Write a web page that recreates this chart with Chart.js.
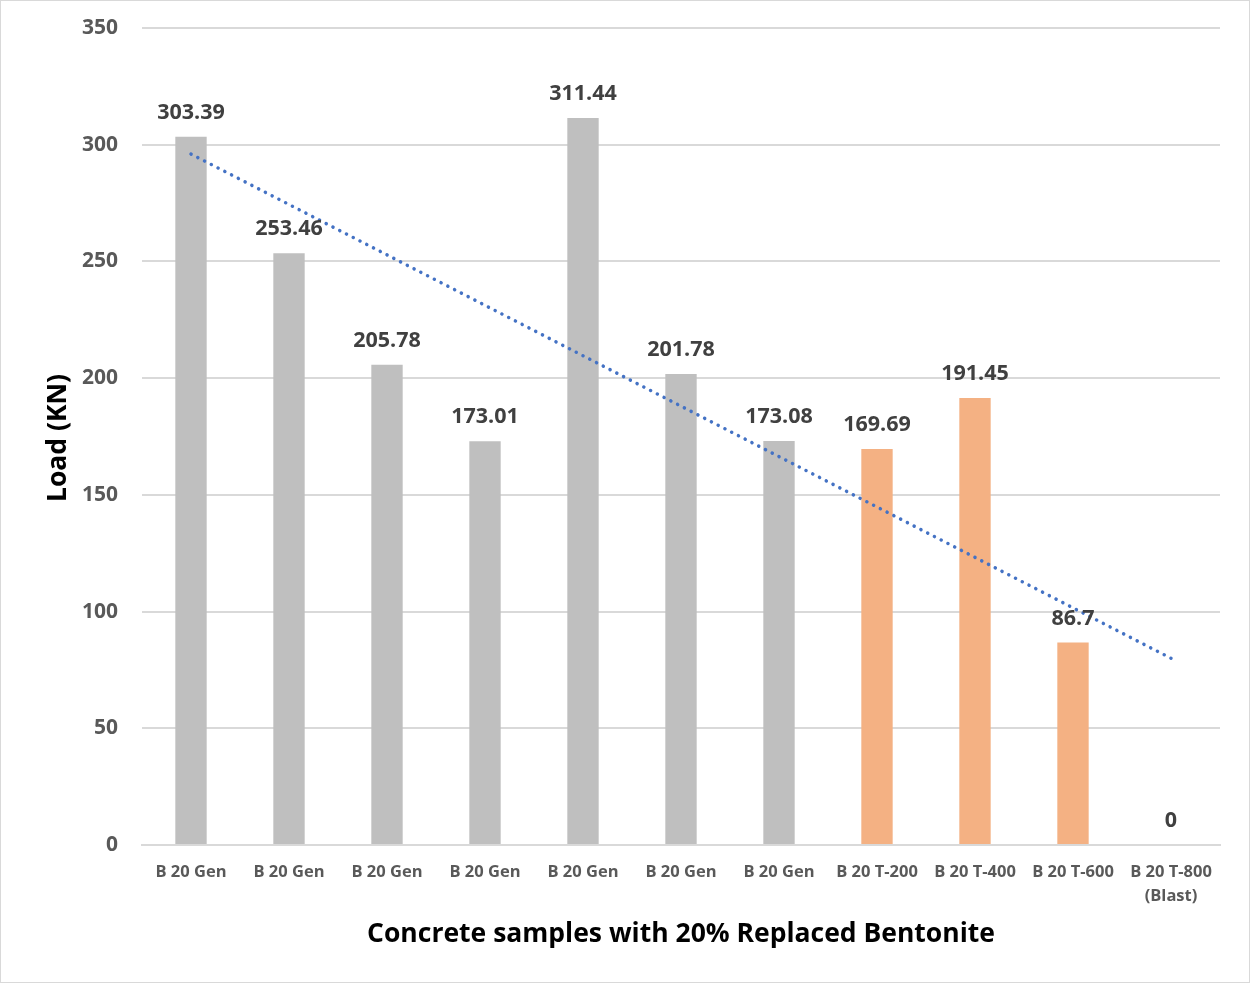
<!DOCTYPE html>
<html>
<head>
<meta charset="utf-8">
<script src="https://cdn.jsdelivr.net/npm/chart.js@4"></script>
<style>
    body { margin: 0; background: #fff; }
    #box { position: absolute; left: 0; top: 0; width: 1248px; height: 981px; border: 1px solid #d9d9d9; }
    #grafico { position: absolute; left: 0; top: 0; }
</style>
</head>
<body>
<div id="box"></div>
<canvas id="grafico" width="1250" height="983"></canvas>
<script>
var campioni = ['B 20 Gen', 'B 20 Gen', 'B 20 Gen', 'B 20 Gen', 'B 20 Gen', 'B 20 Gen', 'B 20 Gen',
    'B 20 T-200', 'B 20 T-400', 'B 20 T-600', ['B 20 T-800', '(Blast)']];
var carichi = [303.39, 253.46, 205.78, 173.01, 311.44, 201.78, 173.08, 169.69, 191.45, 86.7, 0];
var coloriBarre = ['#bfbfbf', '#bfbfbf', '#bfbfbf', '#bfbfbf', '#bfbfbf', '#bfbfbf', '#bfbfbf',
    '#f4b183', '#f4b183', '#f4b183', '#f4b183'];
// trendline: start and end only
var tendenza = [296, null, null, null, null, null, null, null, null, null, 80];

var font = '"Open Sans", sans-serif';

var etichette = {
    id: 'etichette',
    afterDatasetsDraw: function (chart) {
        var ctx = chart.ctx;
        var meta = chart.getDatasetMeta(0);
        ctx.save();
        ctx.font = 'bold 21.5px ' + font;
        ctx.fillStyle = '#404040';
        ctx.textAlign = 'center';
        ctx.textBaseline = 'alphabetic';
        for (var i = 0; i < meta.data.length; i++) {
            var bar = meta.data[i];
            ctx.fillText(carichi[i], bar.x, bar.y - 18);
        }
        // axis titles
        var area = chart.chartArea;
        ctx.fillStyle = '#000';
        ctx.font = 'bold 26.5px ' + font;
        ctx.fillText('Concrete samples with 20% Replaced Bentonite', (area.left + area.right) / 2, 942);
        ctx.translate(66, 438);
        ctx.rotate(-Math.PI / 2);
        ctx.font = 'bold 26.5px ' + font;
        ctx.fillText('Load (KN)', 0, 0);
        ctx.restore();
    }
};

var ctx = document.getElementById('grafico');
var chart = new Chart(ctx, {
    type: 'bar',
    data: {
        labels: campioni,
        datasets: [{
            type: 'bar',
            data: carichi,
            backgroundColor: coloriBarre,
            barPercentage: 0.64,
            categoryPercentage: 0.5,
            order: 2
        }, {
            type: 'line',
            data: tendenza,
            borderColor: '#4472c4',
            borderWidth: 3.5,
            borderDash: [0.1, 7.5],
            borderCapStyle: 'round',
            pointRadius: 0,
            spanGaps: true,
            fill: false,
            order: 1
        }]
    },
    options: {
        responsive: false,
        animation: false,
        layout: { padding: { top: 28, right: 30, left: 0, bottom: 0 } },
        plugins: { legend: { display: false }, tooltip: { enabled: false } },
        scales: {
            x: {
                grid: { display: false, drawTicks: false },
                border: { color: '#d9d9d9', width: 2 },
                ticks: { color: '#595959', font: { family: font, size: 16.5, weight: 'bold', lineHeight: 1.45 }, padding: 15, maxRotation: 0, autoSkip: false },
                afterFit: function (scale) { scale.height = 138; }
            },
            y: {
                min: 0,
                max: 350,
                grid: { color: '#d9d9d9', lineWidth: 2, drawTicks: false },
                border: { display: false },
                ticks: { stepSize: 50, color: '#595959', font: { family: font, size: 21, weight: 'bold' }, padding: 24 },
                afterFit: function (scale) {
                    scale.width = 142;
                    scale.paddingTop = 0;
                    scale.paddingBottom = 0;
                }
            }
        }
    },
    plugins: [etichette]
});
</script>
</body>
</html>
